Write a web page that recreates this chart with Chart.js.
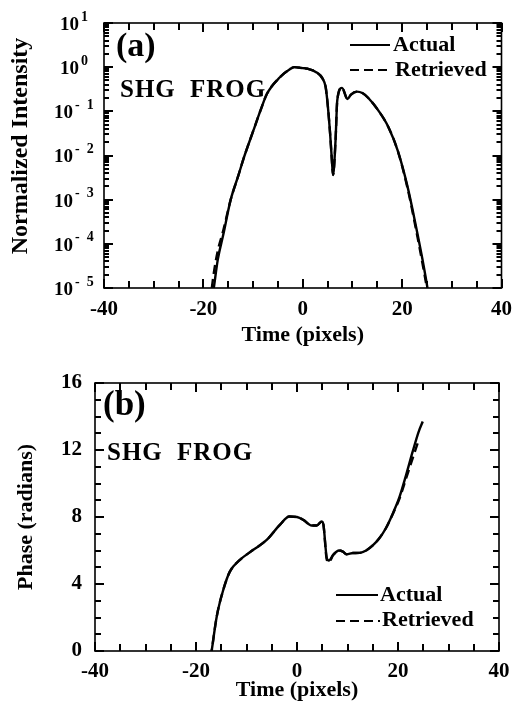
<!DOCTYPE html>
<html><head><meta charset="utf-8">
<script src="https://cdn.jsdelivr.net/npm/chart.js@4.4.1/dist/chart.umd.min.js"></script>
<style>
html,body{margin:0;padding:0;background:#fff;}
#wrap{position:relative;width:521px;height:707px;overflow:hidden;}
.box{position:absolute;left:0;width:521px;}
</style></head><body>
<div id="wrap">
<div class="box" style="top:0;height:350px"><canvas id="c1" width="521" height="350"></canvas></div>
<div class="box" style="top:350px;height:357px"><canvas id="c2" width="521" height="357"></canvas></div>
</div>
<script>
// ---------- data ----------
const seriesLabels = ['Actual', 'Retrieved'];

// (a) normalized intensity vs time
const timeA = [-18.3, -17.9, -17.1, -16.0, -14.5, -13.0, -11.8, -10.0, -8.5, -7.2, -4.6, -2.6, -1.7, 0, 1.0, 2.7, 4.0, 4.6, 5.0, 5.5, 5.8, 6.1, 6.6, 6.95, 7.9, 9.0, 9.7, 10.9, 12.0, 13.2, 15.2, 17.2, 19.1, 21.1, 22.8, 24.1, 25.1, 25.6];
const intensityActual = [5e-6, 1e-5, 4.4e-5, 1.6e-4, 1e-3, 3.4e-3, 9.3e-3, 0.035, 0.105, 0.25, 0.59, 0.9, 1.0, 0.95, 0.92, 0.77, 0.55, 0.36, 0.15, 0.032, 0.01, 0.0036, 0.022, 0.18, 0.34, 0.19, 0.24, 0.28, 0.26, 0.2, 0.105, 0.045, 0.013, 0.00195, 0.000245, 0.000044, 0.00001, 0.000004];
const intensityRetrieved = [1e-5, 2.2e-5, 7e-5, 2e-4, 1e-3, 3.4e-3, 9.3e-3, 0.035, 0.105, 0.25, 0.59, 0.9, 1.0, 0.95, 0.92, 0.77, 0.55, 0.36, 0.15, 0.032, 0.01, 0.0036, 0.022, 0.18, 0.34, 0.19, 0.24, 0.28, 0.26, 0.2, 0.105, 0.045, 0.013, 0.0018, 0.00021, 0.000036, 0.000008, 0.000003];
const logTickExponents = [1, 0, -1, -2, -3, -4, -5];

// (b) phase vs time
const timeB = [-17.1, -16.9, -15.9, -14.6, -13.3, -11.3, -8.65, -6.0, -3.4, -1.5, 0, 1.25, 2.9, 3.9, 4.9, 5.2, 5.9, 6.3, 7.2, 8.3, 9.0, 9.8, 11.1, 12.4, 13.7, 15.0, 16.3, 17.6, 19.0, 20.3, 21.6, 22.9, 24.1, 24.9];
const phaseActual = [-0.4, 0, 2.05, 3.65, 4.74, 5.44, 6.04, 6.63, 7.53, 8.03, 8.0, 7.83, 7.49, 7.49, 7.73, 7.6, 5.55, 5.4, 5.75, 6.0, 5.95, 5.78, 5.85, 5.86, 6.0, 6.3, 6.73, 7.33, 8.23, 9.2, 10.5, 11.9, 13.1, 13.7];
const phaseRetrieved = [-0.4, 0, 2.05, 3.65, 4.74, 5.44, 6.04, 6.63, 7.53, 8.03, 8.0, 7.83, 7.49, 7.49, 7.73, 7.6, 5.45, 5.3, 5.75, 6.0, 5.95, 5.78, 5.85, 5.86, 6.0, 6.3, 6.73, 7.33, 8.2, 9.1, 10.3, 11.5, 12.6, null];

const xTickStep = 20;     // labelled ticks on time axes
const xMinorStep = 5;     // small tick marks on time axes
const phaseTickStep = 4;  // labelled ticks on phase axis
const phaseMinorStep = 1; // small tick marks on phase axis

// ---------- helpers ----------
const SERIF = "'Liberation Serif', 'Times New Roman', serif";
const bold = s => ({family: SERIF, size: s, weight: 'bold'});
const pts = (xs, ys) => xs.map((x, i) => ({x, y: ys[i]}));
function seg(ctx, x0, y0, x1, y1) { ctx.beginPath(); ctx.moveTo(x0, y0); ctx.lineTo(x1, y1); ctx.stroke(); }

function yTickList(kind) {
  const out = [];
  if (kind === 'log') {
    for (let e = -5; e <= 1; e++) {
      out.push({v: Math.pow(10, e), major: true});
      if (e < 1) for (let k = 2; k <= 9; k++) out.push({v: k * Math.pow(10, e), major: false});
    }
  } else {
    for (let v = 0; v <= 16; v += phaseMinorStep) out.push({v: v, major: v % phaseTickStep === 0});
  }
  return out;
}

// frame with inward ticks on all four sides
function makeFramePlugin(kind) {
  return {
    id: 'frame' + kind,
    afterDraw(chart) {
      const ctx = chart.ctx;
      const a = chart.chartArea;
      const xs = chart.scales['x'], ys = chart.scales['y'];
      const L = a.left, R = a.right, T = a.top, B = a.bottom;
      ctx.save();
      ctx.setLineDash([]);
      ctx.strokeStyle = '#000000';
      ctx.lineWidth = 1.6;
      ctx.strokeRect(L, T, R - L, B - T);
      ctx.lineWidth = 2;
      ctx.beginPath();
      for (let v = -40; v <= 40; v += xMinorStep) {
        const px = Math.round(xs.getPixelForValue(v));
        const len = (v % xTickStep === 0) ? 9 : 7;
        ctx.moveTo(px, B); ctx.lineTo(px, B - len);
        ctx.moveTo(px, T); ctx.lineTo(px, T + len);
      }
      const list = yTickList(kind);
      for (let i = 0; i < list.length; i++) {
        const t = list[i];
        const py = Math.round(ys.getPixelForValue(t.v));
        const len = t.major ? 9 : (kind === 'log' ? 5 : 6);
        ctx.moveTo(L, py); ctx.lineTo(L + len, py);
        ctx.moveTo(R, py); ctx.lineTo(R - len, py);
      }
      ctx.stroke();
      ctx.restore();
    }
  };
}

// in-plot legend drawn from the dataset labels/styles
const legendPlugin = {
  id: 'inLegend',
  afterDraw(chart, args, o) {
    const ctx = chart.ctx;
    ctx.save();
    ctx.font = `bold ${o.size}px ${SERIF}`;
    ctx.textBaseline = 'middle';
    ctx.fillStyle = '#000';
    ctx.strokeStyle = '#000';
    ctx.lineWidth = 2;
    o.rows.forEach((r, i) => {
      const ds = chart.data.datasets[i];
      ctx.setLineDash(ds.borderDash || []);
      seg(ctx, r.x0, r.y, r.x1, r.y);
      ctx.setLineDash([]);
      ctx.fillText(ds.label, r.tx, r.ty);
    });
    ctx.restore();
  }
};

// free text labels (panel letter, method name, rotated title)
const textPlugin = {
  id: 'texts',
  afterDraw(chart, args, o) {
    const ctx = chart.ctx;
    o.items.forEach(t => {
      ctx.save();
      ctx.font = `bold ${t.size}px ${SERIF}`;
      ctx.fillStyle = '#000';
      ctx.textBaseline = 'alphabetic';
      ctx.textAlign = t.align || 'left';
      if (t.spacing) { try { ctx.letterSpacing = t.spacing; } catch (e) {} }
      ctx.translate(t.x, t.y);
      if (t.rot) ctx.rotate(t.rot);
      ctx.fillText(t.text, 0, 0);
      ctx.restore();
    });
  }
};

// 10^n tick labels for the log axis
const logLabelPlugin = {
  id: 'logLabels',
  afterDraw(chart) {
    const ctx = chart.ctx, y = chart.scales.y;
    ctx.save();
    ctx.fillStyle = '#000';
    logTickExponents.forEach(e => {
      const py = y.getPixelForValue(Math.pow(10, e));
      const xr = e >= 0 ? 79 : 73;
      ctx.font = `bold 19px ${SERIF}`;
      ctx.textAlign = 'right';
      ctx.textBaseline = 'middle';
      ctx.fillText('10', xr, py + 2);
      ctx.font = `bold 14px ${SERIF}`;
      ctx.textAlign = 'left';
      ctx.fillText(e >= 0 ? String(e) : '-  ' + (-e), xr + 2, py - 6);
    });
    ctx.restore();
  }
};

function lineDataset(label, data, dashed) {
  return {
    label, data,
    borderColor: '#000', backgroundColor: '#000',
    borderWidth: 2.4,
    borderDash: dashed ? [9, 5] : [],
    pointRadius: 0,
    cubicInterpolationMode: 'monotone',
    spanGaps: false,
    clip: 0,
    fill: false
  };
}

function xAxis(height, pad, titlePadBottom) {
  return {
    type: 'linear', position: 'bottom', min: -40, max: 40,
    ticks: {stepSize: xTickStep, autoSkip: false, maxRotation: 0, color: '#000', font: bold(21), padding: pad},
    grid: {display: false, drawTicks: false},
    border: {display: false},
    title: {display: true, text: 'Time (pixels)', color: '#000', font: bold(22), padding: {top: 0, bottom: titlePadBottom}},
    afterFit(s) { s.height = height; }
  };
}

Chart.defaults.animation = false;

// ---------- (a) ----------
new Chart(document.getElementById('c1'), {
  type: 'line',
  data: {datasets: [
    lineDataset(seriesLabels[0], pts(timeA, intensityActual), false),
    lineDataset(seriesLabels[1], pts(timeA, intensityRetrieved), true)
  ]},
  options: {
    responsive: false, devicePixelRatio: 1, animation: false,
    layout: {padding: {top: 23, right: 12, left: 0, bottom: 0}},
    scales: {
      x: xAxis(62, 9, 1),
      y: {
        type: 'logarithmic', min: 1e-5, max: 10,
        ticks: {display: false},
        grid: {display: false, drawTicks: false},
        border: {display: false},
        afterFit(s) { s.width = 104; }
      }
    },
    plugins: {
      legend: {display: false}, tooltip: {enabled: false},
      inLegend: {size: 22, rows: [
        {x0: 350, x1: 390, y: 45, tx: 393, ty: 45},
        {x0: 350, x1: 392, y: 70, tx: 395, ty: 70}
      ]},
      texts: {items: [
        {text: '(a)', x: 116, y: 56, size: 34},
        {text: 'SHG', x: 120, y: 97, size: 25, spacing: '1px'},
        {text: 'FROG', x: 190, y: 97, size: 25, spacing: '1px'},
        {text: 'Normalized Intensity', x: 27, y: 146, size: 24, align: 'center', rot: -Math.PI / 2}
      ]}
    }
  },
  plugins: [makeFramePlugin('log'), legendPlugin, textPlugin, logLabelPlugin]
});

// ---------- (b) ----------
new Chart(document.getElementById('c2'), {
  type: 'line',
  data: {datasets: [
    lineDataset(seriesLabels[0], pts(timeB, phaseActual), false),
    lineDataset(seriesLabels[1], pts(timeB, phaseRetrieved), true)
  ]},
  options: {
    responsive: false, devicePixelRatio: 1, animation: false,
    layout: {padding: {top: 33, right: 22, left: 0, bottom: 0}},
    scales: {
      x: xAxis(56, 8, 3),
      y: {
        type: 'linear', min: 0, max: 16,
        ticks: {stepSize: phaseTickStep, color: '#000', font: bold(21), padding: 13},
        grid: {display: false, drawTicks: false},
        border: {display: false},
        title: {display: true, text: 'Phase (radians)', color: '#000', font: bold(22), padding: {top: 13, bottom: 0}},
        afterFit(s) { s.width = 95; }
      }
    },
    plugins: {
      legend: {display: false}, tooltip: {enabled: false},
      inLegend: {size: 22, rows: [
        {x0: 336, x1: 378, y: 245, tx: 380, ty: 245},
        {x0: 336, x1: 380, y: 271, tx: 382, ty: 270}
      ]},
      texts: {items: [
        {text: '(b)', x: 103, y: 65, size: 35},
        {text: 'SHG', x: 107, y: 110, size: 25, spacing: '1px'},
        {text: 'FROG', x: 177, y: 110, size: 25, spacing: '1px'}
      ]}
    }
  },
  plugins: [makeFramePlugin('phase'), legendPlugin, textPlugin]
});
</script>
</body></html>
